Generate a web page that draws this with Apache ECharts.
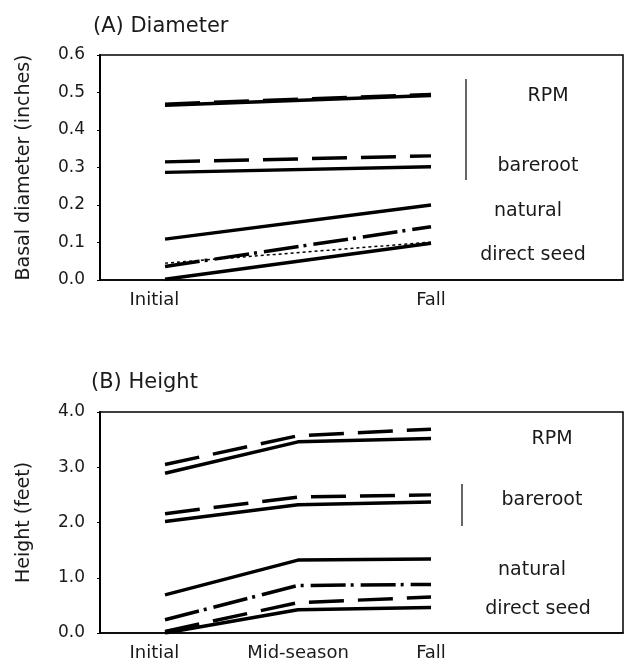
<!DOCTYPE html>
<html>
<head>
<meta charset="utf-8">
<script src="https://cdn.jsdelivr.net/npm/echarts@6/dist/echarts.min.js"></script>
<style>
html,body{margin:0;padding:0;background:#fff;}
#c{width:625px;height:664px;}
</style>
</head>
<body>
<div id="c"></div>
<script>
// ---- Data ----
const diaCategories = ['Initial', 'Fall'];
const diaX = [0, 1];
const diaRpmSolid = [0.466, 0.492];
const diaRpmDashed = [0.469, 0.495];
const diaBarerootDashed = [0.315, 0.331];
const diaBarerootSolid = [0.287, 0.302];
const diaNaturalSolid = [0.109, 0.200];
const diaDashDot = [0.036, 0.142];
const diaDotted = [0.045, 0.101];
const diaDirectSolid = [0.002, 0.098];
const diaTicks = [0, 0.1, 0.2, 0.3, 0.4, 0.5, 0.6];

const hgtCategories = ['Initial', 'Mid-season', 'Fall'];
const hgtX = [0, 0.5, 1];
const hgtRpmDashed = [3.05, 3.57, 3.69];
const hgtRpmSolid = [2.89, 3.46, 3.52];
const hgtBarerootDashed = [2.16, 2.46, 2.50];
const hgtBarerootSolid = [2.02, 2.32, 2.37];
const hgtNaturalSolid = [0.69, 1.32, 1.34];
const hgtDashDot = [0.24, 0.86, 0.88];
const hgtDashed = [0.03, 0.55, 0.65];
const hgtSolid = [0.00, 0.42, 0.46];
const hgtTicks = [0, 1, 2, 3, 4];

const groupLabels = ['RPM', 'bareroot', 'natural', 'direct seed'];

// ---- Styles ----
const FONT = 'DejaVu Sans';
const INK = '#1a1a1a';
const LW = 3.5;
const SOLID = {type: 'solid', width: LW};
const DASHED = {type: [35, 14], width: LW};
const DASHDOT = {type: [35, 5, 3, 7], width: LW};
const DOTTED = {type: [3, 3], width: 1.5};

function pairs(xs, ys) { return xs.map((x, i) => [x, ys[i]]); }
function mk(name, xi, yi, xs, ys, style) {
  return {
    name: name, type: 'line', xAxisIndex: xi, yAxisIndex: yi,
    data: pairs(xs, ys), showSymbol: false, symbol: 'none', silent: true,
    lineStyle: Object.assign({color: '#000', cap: 'butt'}, style),
    animation: false
  };
}

const XMIN = -0.2444, XMAX = 1.7218;
const FIRST_LABEL_SHIFT = -0.04;

function xAxisDef(gi, cats, xs) {
  const pos = xs.map((v, i) => i === 0 ? v + FIRST_LABEL_SHIFT : v);
  return {
    type: 'value', gridIndex: gi, min: XMIN, max: XMAX,
    axisLine: {show: true, onZero: false, lineStyle: {color: '#000', width: 1.5}},
    axisTick: {show: false},
    splitLine: {show: false},
    axisLabel: {
      customValues: pos,
      formatter: v => { const i = pos.indexOf(v); return i >= 0 ? cats[i] : ''; },
      fontFamily: FONT, fontSize: 18, color: INK, margin: 11
    }
  };
}
function yAxisDef(gi, ticks, name, digits) {
  return {
    type: 'value', gridIndex: gi, min: ticks[0], max: ticks[ticks.length - 1],
    interval: ticks[1] - ticks[0],
    name: name, nameLocation: 'middle', nameGap: 66,
    nameTextStyle: {fontFamily: FONT, fontSize: 19, color: INK},
    axisLine: {show: true, onZero: false, lineStyle: {color: '#000', width: 2}},
    axisTick: {show: true, length: 3, lineStyle: {color: '#000'}},
    splitLine: {show: false},
    axisLabel: {formatter: v => v.toFixed(digits), fontFamily: FONT, fontSize: 17, color: INK, margin: 15}
  };
}

const series = [
  mk('RPM solid', 0, 0, diaX, diaRpmSolid, SOLID),
  mk('RPM dashed', 0, 0, diaX, diaRpmDashed, DASHED),
  mk('bareroot dashed', 0, 0, diaX, diaBarerootDashed, DASHED),
  mk('bareroot solid', 0, 0, diaX, diaBarerootSolid, SOLID),
  mk('natural solid', 0, 0, diaX, diaNaturalSolid, SOLID),
  mk('dash-dot', 0, 0, diaX, diaDashDot, DASHDOT),
  mk('dotted', 0, 0, diaX, diaDotted, DOTTED),
  mk('direct seed solid', 0, 0, diaX, diaDirectSolid, SOLID),

  mk('RPM dashed', 1, 1, hgtX, hgtRpmDashed, DASHED),
  mk('RPM solid', 1, 1, hgtX, hgtRpmSolid, SOLID),
  mk('bareroot dashed', 1, 1, hgtX, hgtBarerootDashed, DASHED),
  mk('bareroot solid', 1, 1, hgtX, hgtBarerootSolid, SOLID),
  mk('natural solid', 1, 1, hgtX, hgtNaturalSolid, SOLID),
  mk('dash-dot', 1, 1, hgtX, hgtDashDot, DASHDOT),
  mk('dashed', 1, 1, hgtX, hgtDashed, DASHED),
  mk('solid', 1, 1, hgtX, hgtSolid, SOLID)
];

function txt(s, x, y, size, align) {
  return {type: 'text', x: x, y: y, silent: true,
    style: {text: s, fill: INK, font: size + 'px "' + FONT + '"', textAlign: align || 'center', textVerticalAlign: 'middle'}};
}
function vline(x, y1, y2) {
  return {type: 'line', silent: true, shape: {x1: x, y1: y1, x2: x, y2: y2}, style: {stroke: '#000', lineWidth: 1.2}};
}

const option = {
  backgroundColor: '#fff',
  animation: false,
  title: [
    {text: '(A) Diameter', left: 88, top: 11, textStyle: {fontFamily: FONT, fontSize: 21, fontWeight: 'normal', color: INK}},
    {text: '(B) Height', left: 86, top: 367, textStyle: {fontFamily: FONT, fontSize: 21, fontWeight: 'normal', color: INK}}
  ],
  grid: [
    {left: 100, right: 2, top: 55, bottom: 384, show: true, borderColor: '#000', borderWidth: 1.5},
    {left: 100, right: 2, top: 412, bottom: 31, show: true, borderColor: '#000', borderWidth: 1.5}
  ],
  xAxis: [xAxisDef(0, diaCategories, diaX), xAxisDef(1, hgtCategories, hgtX)],
  yAxis: [yAxisDef(0, diaTicks, 'Basal diameter (inches)', 1), yAxisDef(1, hgtTicks, 'Height (feet)', 1)],
  series: series,
  graphic: [
    vline(466, 79, 180),
    txt(groupLabels[0], 548, 96, 19),
    txt(groupLabels[1], 538, 166, 19),
    txt(groupLabels[2], 528, 211, 19),
    txt(groupLabels[3], 533, 255, 19),
    vline(462, 484, 526),
    txt(groupLabels[0], 552, 439, 19),
    txt(groupLabels[1], 542, 500, 19),
    txt(groupLabels[2], 532, 570, 19),
    txt(groupLabels[3], 538, 609, 19)
  ]
};

const chart = echarts.init(document.getElementById('c'), null, {renderer: 'canvas'});
chart.setOption(option);
</script>
</body>
</html>
